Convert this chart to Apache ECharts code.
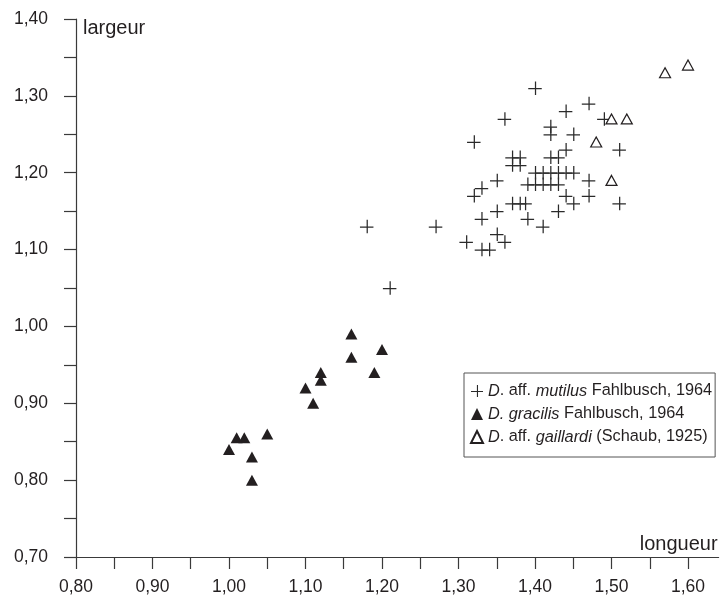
<!DOCTYPE html>
<html>
<head>
<meta charset="utf-8">
<script src="https://cdn.jsdelivr.net/npm/echarts@6/dist/echarts.min.js"></script>
<style>
html,body{margin:0;padding:0;background:#fff;}
#chart{width:721px;height:597px;}
</style>
</head>
<body>
<div id="chart"></div>
<script>
// Series names (legend)
const seriesNames = ['mutilus', 'gracilis', 'gaillardi'];

// D. aff. mutilus (crosses): [longueur, largeur]
const mutilusData = [
  [1.40,1.31],[1.36,1.27],[1.44,1.28],[1.47,1.29],[1.49,1.27],[1.32,1.24],
  [1.42,1.26],[1.42,1.25],[1.45,1.25],[1.51,1.23],
  [1.37,1.22],[1.38,1.22],[1.37,1.21],[1.38,1.21],
  [1.42,1.22],[1.43,1.22],[1.44,1.23],
  [1.40,1.20],[1.41,1.20],[1.42,1.20],[1.43,1.20],[1.44,1.20],[1.45,1.20],
  [1.39,1.185],[1.40,1.185],[1.41,1.185],[1.42,1.185],[1.43,1.185],
  [1.44,1.17],[1.45,1.16],
  [1.37,1.16],[1.38,1.16],[1.387,1.16],
  [1.47,1.19],[1.47,1.17],[1.51,1.16],
  [1.35,1.19],[1.33,1.18],[1.32,1.17],
  [1.35,1.15],[1.33,1.14],[1.39,1.14],[1.43,1.15],[1.41,1.13],
  [1.35,1.12],[1.31,1.11],[1.33,1.10],[1.34,1.10],[1.36,1.11],
  [1.18,1.13],[1.27,1.13],[1.21,1.05]
];

// D. gracilis (filled triangles)
const gracilisData = [
  [1.16,0.99],[1.16,0.96],[1.12,0.94],[1.12,0.93],[1.10,0.92],[1.11,0.90],
  [1.05,0.86],[1.01,0.855],[1.02,0.855],[1.00,0.84],[1.03,0.83],[1.03,0.80],
  [1.19,0.94],[1.20,0.97]
];

// D. aff. gaillardi (open triangles)
const gaillardiData = [
  [1.60,1.34],[1.57,1.33],[1.50,1.27],[1.52,1.27],[1.48,1.24],[1.50,1.19]
];

// Axis ticks and labels
const xTickValues = [0.80,0.85,0.90,0.95,1.00,1.05,1.10,1.15,1.20,1.25,1.30,1.35,1.40,1.45,1.50,1.55,1.60];
const xLabelValues = [0.80,0.90,1.00,1.10,1.20,1.30,1.40,1.50,1.60];
const yTickValues = [0.70,0.75,0.80,0.85,0.90,0.95,1.00,1.05,1.10,1.15,1.20,1.25,1.30,1.35,1.40];
const yLabelValues = [0.70,0.80,0.90,1.00,1.10,1.20,1.30,1.40];

const FONT = '"Liberation Sans", Arial, Helvetica, sans-serif';
const TXT = '#231f20';
const AX = '#3a3a3a';
const fmt = v => Number(v).toFixed(2).replace('.', ',');
const crossPath = 'path://M0,6.4H13V7.6H0Z M6.4,0H7.6V13H6.4Z';

const legendText = {
  mutilus: '{i|D}. aff. {i|mutilus} Fahlbusch, 1964',
  gracilis: '{i|D. gracilis} Fahlbusch, 1964',
  gaillardi: '{i|D}. aff. {i|gaillardi} (Schaub, 1925)'
};

const chart = echarts.init(document.getElementById('chart'), null, {renderer: 'canvas'});
chart.setOption({
  animation: false,
  backgroundColor: '#fff',
  textStyle: {fontFamily: FONT, color: TXT},
  grid: {left: 76, right: 2.4, top: 19, bottom: 40},
  xAxis: {
    type: 'value', min: 0.80, max: 1.64,
    name: 'longueur', nameLocation: 'end', nameGap: -1,
    nameTextStyle: {fontFamily: FONT, fontSize: 20, color: TXT, align: 'right', verticalAlign: 'bottom', padding: [0, 0, 3, 0]},
    axisLine: {show: true, onZero: false, lineStyle: {color: AX, width: 1.2}},
    axisTick: {show: true, inside: false, length: 12, customValues: xTickValues, lineStyle: {color: AX, width: 1.2}},
    axisLabel: {show: true, margin: 21, customValues: xLabelValues, formatter: fmt, fontFamily: FONT, fontSize: 17.5, color: TXT},
    splitLine: {show: false}
  },
  yAxis: {
    type: 'value', min: 0.70, max: 1.40,
    name: 'largeur', nameLocation: 'end', nameGap: -9,
    nameTextStyle: {fontFamily: FONT, fontSize: 20, color: TXT, align: 'left', verticalAlign: 'middle', padding: [0, 0, 0, 7]},
    axisLine: {show: true, onZero: false, lineStyle: {color: AX, width: 1.2}},
    axisTick: {show: true, inside: false, length: 12, customValues: yTickValues, lineStyle: {color: AX, width: 1.2}},
    axisLabel: {show: true, margin: 28, customValues: yLabelValues, formatter: fmt, fontFamily: FONT, fontSize: 17.5, color: TXT},
    splitLine: {show: false}
  },
  legend: {
    orient: 'vertical', left: 464, top: 373,
    data: seriesNames,
    itemWidth: 12, itemHeight: 12, itemGap: 7,
    padding: [10, 3, 12, 6],
    borderColor: '#555', borderWidth: 1, backgroundColor: '#fff',
    formatter: n => legendText[n],
    textStyle: {
      fontFamily: FONT, fontSize: 16.3, color: TXT,
      rich: {i: {fontFamily: FONT, fontSize: 16.3, fontStyle: 'italic', color: TXT}}
    }
  },
  series: [
    {
      name: 'mutilus', type: 'scatter', data: mutilusData,
      symbol: crossPath, symbolSize: 13.5,
      itemStyle: {color: '#2a2a2a', opacity: 1}
    },
    {
      name: 'gracilis', type: 'scatter', data: gracilisData,
      symbol: 'triangle', symbolSize: [12, 11],
      itemStyle: {color: '#231f20', opacity: 1}
    },
    {
      name: 'gaillardi', type: 'scatter', data: gaillardiData,
      symbol: 'triangle', symbolSize: [11, 10],
      itemStyle: {color: '#ffffff', borderColor: '#231f20', borderWidth: 1.2, opacity: 1}
    }
  ]
});
</script>
</body>
</html>
